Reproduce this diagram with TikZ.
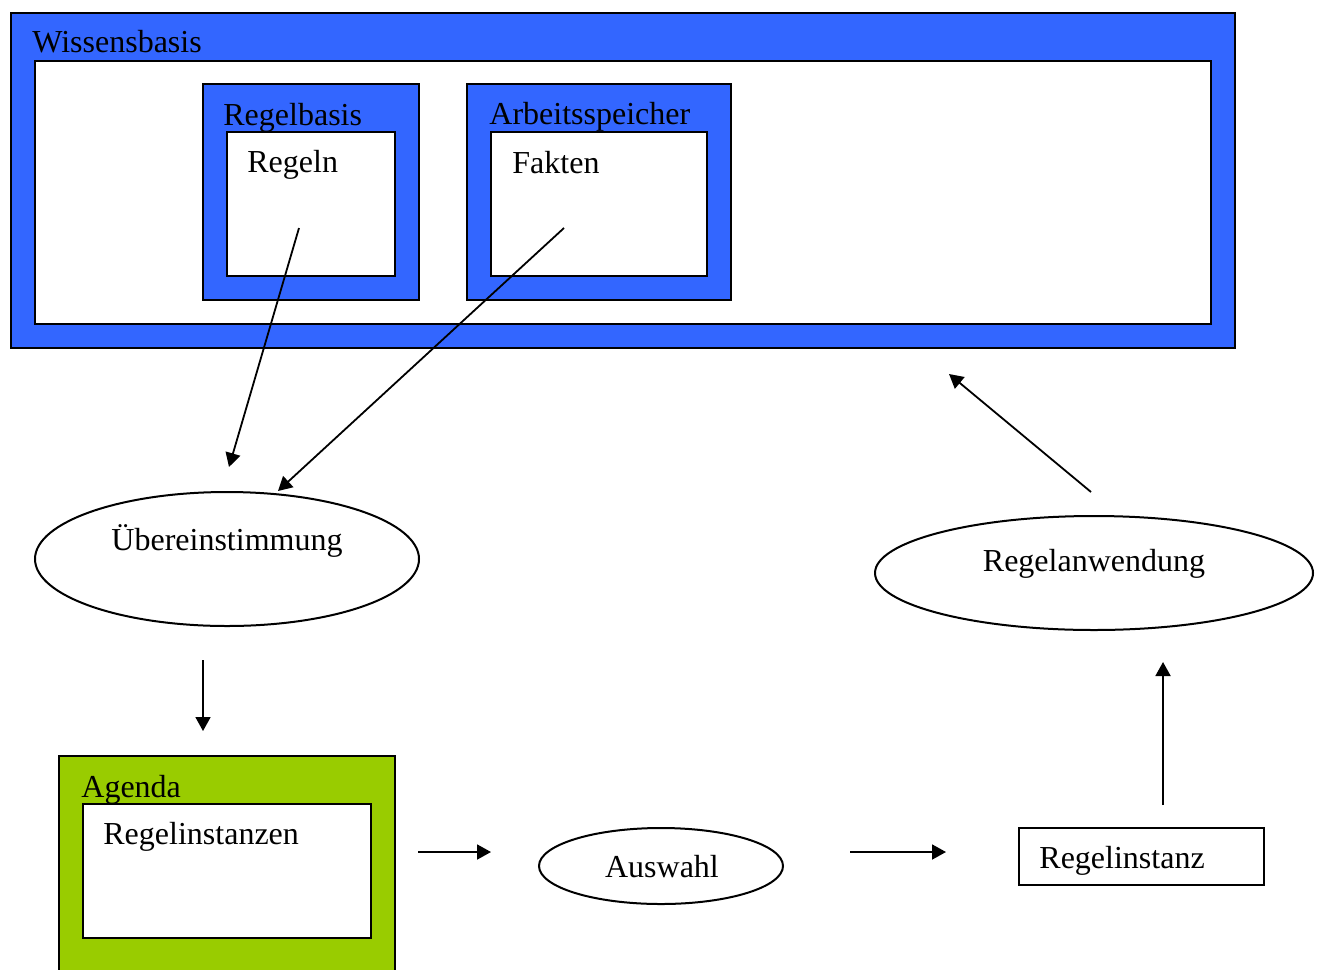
\documentclass[tikz,border=0pt]{standalone}
\usepackage{fontspec}
\setmainfont{Liberation Serif}
\usetikzlibrary{arrows.meta}
\definecolor{wbblue}{HTML}{3366FF}
\definecolor{aggreen}{HTML}{99CC00}
\tikzset{
	box/.style={draw, line width=1pt},
	lbl/.style={anchor=base west, inner sep=0pt, font=\fontsize{16}{19}\selectfont},
	txt/.style={anchor=base, inner sep=0pt, font=\fontsize{16}{19}\selectfont},
	pfeil/.style={-{Triangle[length=7pt,width=7.5pt]}, line width=0.9pt},
}
\begin{document}
\begin{tikzpicture}[x=0.5pt,y=-0.5pt]
	\useasboundingbox (0,0) rectangle (1320,969);
	\clip (0,0) rectangle (1320,969);
	
	\filldraw[box, fill=wbblue] (11,13) rectangle (1235,348);
	\filldraw[box, fill=white] (35,61) rectangle (1211,324);
	\node[lbl] (wb) at (32,52) {Wissensbasis};
	
	\filldraw[box, fill=wbblue] (203,84) rectangle (419,300);
	\filldraw[box, fill=white] (227,132) rectangle (395,276);
	\node[lbl] (rb) at (223,125) {Regelbasis};
	\node[lbl] (regeln) at (247,172) {Regeln};
	
	\filldraw[box, fill=wbblue] (467,84) rectangle (731,300);
	\filldraw[box, fill=white] (491,132) rectangle (707,276);
	\node[lbl] (as) at (489,124) {Arbeitsspeicher};
	\node[lbl] (fakten) at (512,173) {Fakten};
	
	\draw[box] (227,559) ellipse (192 and 67);
	\node[txt] (ueb) at (227,550) {Übereinstimmung};
	
	\draw[box] (1094,573) ellipse (219 and 57);
	\node[txt] (anw) at (1094,571) {Regelanwendung};
	
	\draw[box] (661,866) ellipse (122 and 38);
	\node[txt] (ausw) at (662,877) {Auswahl};
	
	\filldraw[box, fill=aggreen] (59,756) rectangle (395,990);
	\filldraw[box, fill=white] (83,804) rectangle (371,938);
	\node[lbl] (ag) at (81,797) {Agenda};
	\node[lbl] (ri) at (103,844) {Regelinstanzen};
	
	\draw[box] (1019,828) rectangle (1264,885);
	\node[lbl] (rinst) at (1039,868) {Regelinstanz};
	
	\coordinate (r1) at (299,228);
	\coordinate (r2) at (229,467);
	\coordinate (f1) at (564,228);
	\coordinate (f2) at (278,491);
	\coordinate (u1) at (203,660);
	\coordinate (u2) at (203,731);
	\coordinate (a1) at (418,852);
	\coordinate (a2) at (491,852);
	\coordinate (w1) at (850,852);
	\coordinate (w2) at (946,852);
	\coordinate (i1) at (1163,805);
	\coordinate (i2) at (1163,662);
	\coordinate (n1) at (1091,492);
	\coordinate (n2) at (949,374);
	
	\draw[pfeil] (r1) -- (r2);
	\draw[pfeil] (f1) -- (f2);
	\draw[pfeil] (u1) -- (u2);
	\draw[pfeil] (a1) -- (a2);
	\draw[pfeil] (w1) -- (w2);
	\draw[pfeil] (i1) -- (i2);
	\draw[pfeil] (n1) -- (n2);
\end{tikzpicture}
\end{document}
